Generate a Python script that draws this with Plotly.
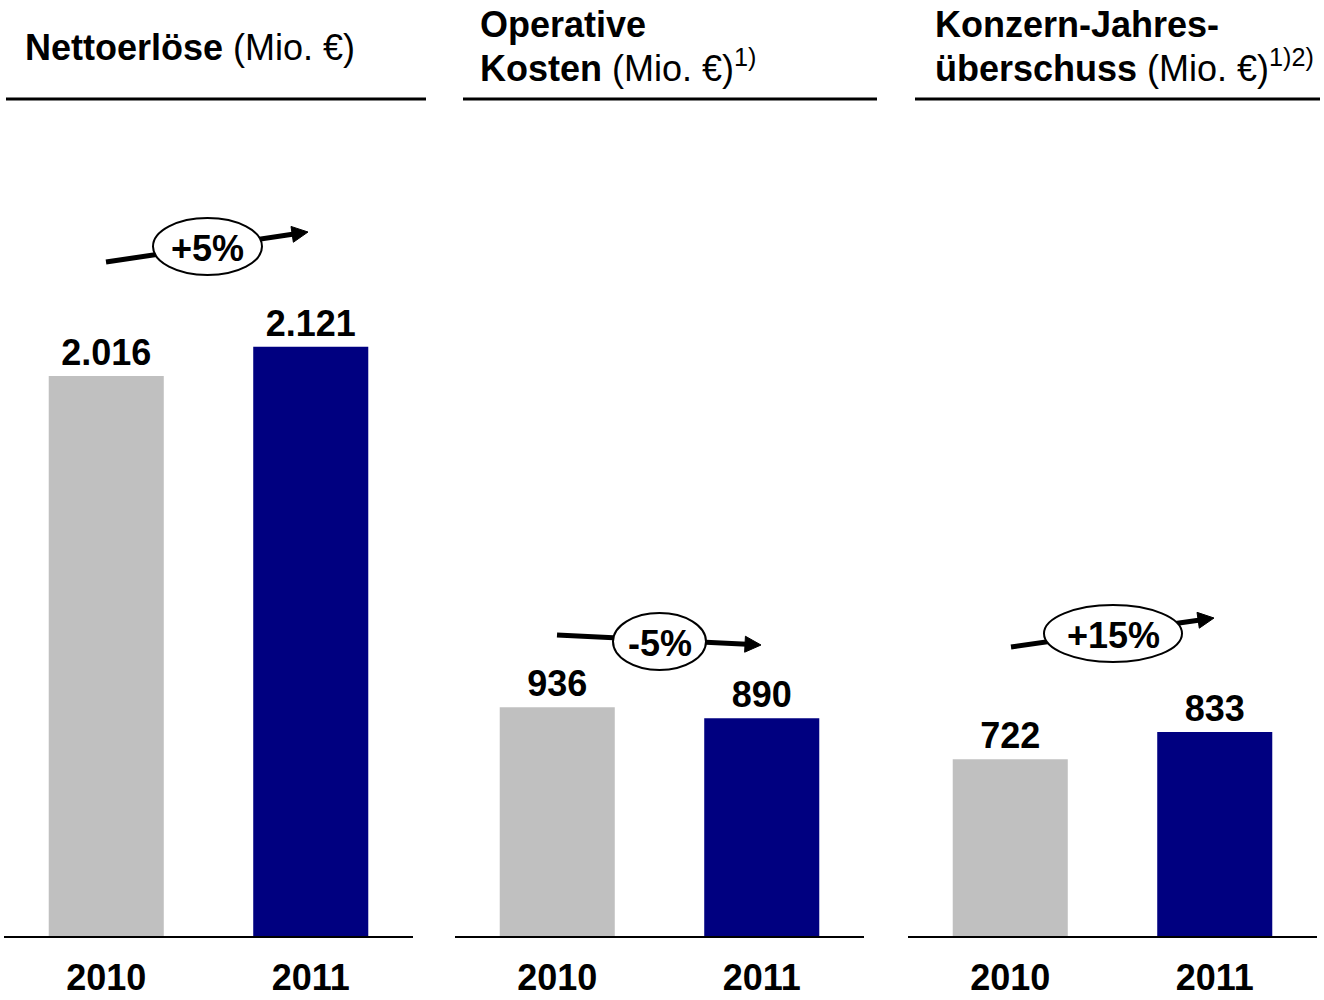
import math
import plotly.graph_objects as go

# ---------------- data ----------------
years = ["2010", "2011"]
nettoerloese = [2016, 2121]
operative_kosten = [936, 890]
jahresueberschuss = [722, 833]
changes = ["+5%", "-5%", "+15%"]
bar_colors = ["#C0C0C0", "#000080"]

title_lines = [
    ["<b>Nettoerlöse</b> (Mio. €)"],
    ["<b>Operative</b>", "<b>Kosten</b> (Mio. €)<sup>1)</sup>"],
    ["<b>Konzern-Jahres-</b>", "<b>überschuss</b> (Mio. €)<sup>1)2)</sup>"],
]

# ---------------- layout helpers (pixel -> paper) ----------------
W, H = 1324, 1000
FONT = "Liberation Sans, Arial, sans-serif"


def PX(x):
    return x / W


def PY(y):
    return 1 - y / H


panels = [
    dict(vals=nettoerloese, dom=(4, 413), yr=2973, ul=(6, 426), tx=23),
    dict(vals=operative_kosten, dom=(455, 864), yr=3378, ul=(463, 877), tx=478),
    dict(vals=jahresueberschuss, dom=(908, 1317), yr=3372, ul=(915, 1320), tx=933),
]
plot_top, plot_bottom = 110, 936

fig = go.Figure()
layout_axes = {}
for i, p in enumerate(panels):
    n = "" if i == 0 else str(i + 1)
    fig.add_trace(go.Bar(
        x=years, y=p["vals"], marker=dict(color=bar_colors, line=dict(width=0)),
        xaxis="x" + n, yaxis="y" + n,
        texttemplate="%{y:,.0f}", textposition="outside", cliponaxis=False,
        constraintext="none",
        textfont=dict(family=FONT, size=36, color="black", weight="bold"),
        hoverinfo="skip", showlegend=False,
    ))
    layout_axes["xaxis" + n] = dict(
        domain=[PX(p["dom"][0]), PX(p["dom"][1])], anchor="y" + n,
        type="category", range=[-0.5, 1.5], showline=True, linecolor="black",
        linewidth=2, ticks="", showgrid=False, zeroline=False, automargin=False,
        tickfont=dict(family=FONT, size=36, color="black", weight="bold"),
        ticklabelstandoff=9, fixedrange=True,
    )
    layout_axes["yaxis" + n] = dict(
        domain=[PY(plot_bottom), PY(plot_top)], anchor="x" + n,
        range=[0, p["yr"]], visible=False, showgrid=False, zeroline=False,
        automargin=False, fixedrange=True,
    )

shapes = []
annotations = []

# title underlines and titles
title_baselines = [[61], [38, 82], [38, 82]]
for i, p in enumerate(panels):
    shapes.append(dict(type="line", xref="paper", yref="paper",
                       x0=PX(p["ul"][0]), x1=PX(p["ul"][1]), y0=PY(99), y1=PY(99),
                       line=dict(color="black", width=3)))
    for line, base in zip(title_lines[i], title_baselines[i]):
        annotations.append(dict(text=line, xref="paper", yref="paper",
                                x=PX(p["tx"]), y=PY(base + 8.6), xanchor="left",
                                yanchor="bottom", showarrow=False,
                                font=dict(family=FONT, size=36, color="black")))

# trend arrows with ellipse labels
arrows = [
    dict(start=(106, 262), tip=(308, 232), ell=(207.5, 246.5, 109, 57)),
    dict(start=(557, 635), tip=(761, 645), ell=(659.5, 641.5, 93, 57)),
    dict(start=(1011, 647), tip=(1214, 618), ell=(1113, 633.5, 138, 57)),
]
for a, label in zip(arrows, changes):
    (x0, y0), (x1, y1) = a["start"], a["tip"]
    dx, dy = x1 - x0, y1 - y0
    L = math.hypot(dx, dy)
    ux, uy = dx / L, dy / L
    nx, ny = -uy, ux
    hl, hw = 16, 8
    bx, by = x1 - ux * hl, y1 - uy * hl
    shapes.append(dict(type="line", xref="paper", yref="paper",
                       x0=PX(x0), y0=PY(y0), x1=PX(bx + ux * 2), y1=PY(by + uy * 2),
                       line=dict(color="black", width=5)))
    path = "M {:.5f},{:.5f} L {:.5f},{:.5f} L {:.5f},{:.5f} Z".format(
        PX(x1), PY(y1), PX(bx + nx * hw), PY(by + ny * hw),
        PX(bx - nx * hw), PY(by - ny * hw))
    shapes.append(dict(type="path", xref="paper", yref="paper", path=path,
                       fillcolor="black", line=dict(color="black", width=1)))
    cx, cy, ew, eh = a["ell"]
    shapes.append(dict(type="circle", xref="paper", yref="paper",
                       x0=PX(cx - ew / 2), x1=PX(cx + ew / 2),
                       y0=PY(cy + eh / 2), y1=PY(cy - eh / 2),
                       fillcolor="white", line=dict(color="black", width=2)))
    annotations.append(dict(text="<b>" + label + "</b>", xref="paper", yref="paper",
                            x=PX(cx), y=PY(cy + 2), xanchor="center", yanchor="middle",
                            showarrow=False,
                            font=dict(family=FONT, size=36, color="black")))

fig.update_layout(
    width=W, height=H, margin=dict(l=0, r=0, t=0, b=0, pad=0, autoexpand=False),
    paper_bgcolor="white", plot_bgcolor="white",
    separators=",.", bargap=0.4375,
    shapes=shapes, annotations=annotations,
    **layout_axes,
)

fig.write_html("out.html", config={"displayModeBar": False, "staticPlot": True},
               post_script="document.body.style.margin='0';")
